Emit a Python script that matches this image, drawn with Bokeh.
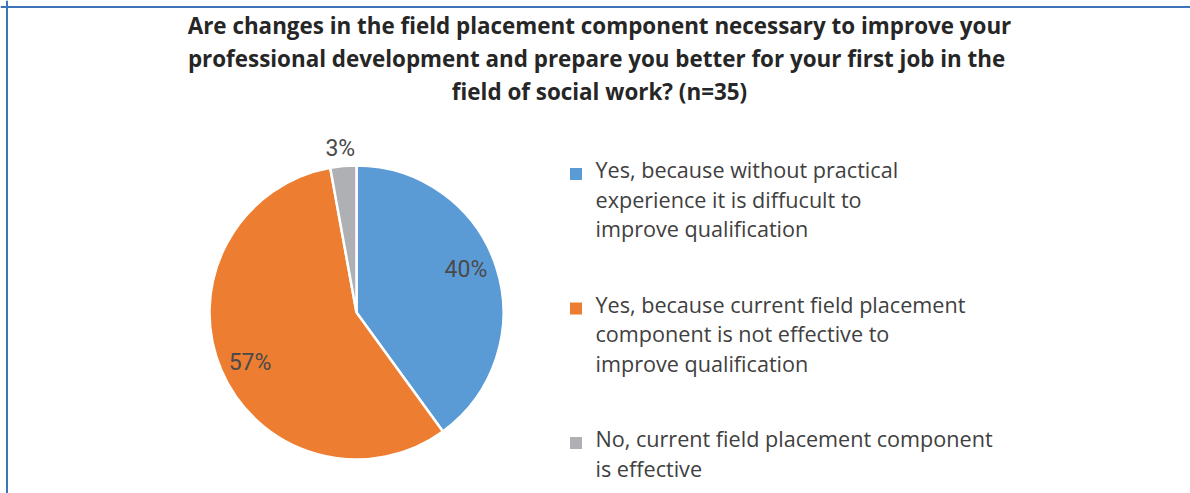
import numpy as np
from bokeh.plotting import figure
from bokeh.models import Range1d, Span, ColumnDataSource
from bokeh.core.properties import value
from bokeh.embed import file_html
from bokeh.resources import INLINE

# ---------------- data ----------------
title_lines = [
    "Are changes in the field placement component necessary to improve your",
    "professional development and  prepare you better for your first job in the",
    "field of social work? (n=35)",
]
categories = [
    "Yes, because without practical\nexperience it is diffucult to\nimprove qualification",
    "Yes, because current field placement\ncomponent is not effective to\nimprove qualification",
    "No, current field placement component\nis effective",
]
counts = [14, 20, 1]
colors = ["#5B9BD5", "#ED7D31", "#AFB0B4"]

# ---------------- derived ----------------
total = sum(counts)
frac = np.array(counts, dtype=float) / total
cum = np.concatenate([[0.0], np.cumsum(frac)])
start = np.pi / 2 - 2 * np.pi * cum[:-1]
end = np.pi / 2 - 2 * np.pi * cum[1:]
mid = (start + end) / 2
pct_labels = [f"{int(round(f * 100))}%" for f in frac]

W, H = 1190, 493
BASE_FIX = 10  # baseline correction for svg text rendering


def sy(y):
    return H - y


p = figure(width=W, height=H, x_range=Range1d(0, W), y_range=Range1d(0, H),
           toolbar_location=None, output_backend="svg", min_border=0,
           x_axis_type=None, y_axis_type=None)
p.grid.visible = False
p.outline_line_color = None
p.background_fill_color = "white"
p.border_fill_color = "white"

# frame lines (top and left)
p.add_layout(Span(location=sy(6.5), dimension="width", line_color="#3E74B8", line_width=2))
p.add_layout(Span(location=6.5, dimension="height", line_color="#3E74B8", line_width=2))

# pie
cx, cy, R = 356, sy(312), 147
src = ColumnDataSource(dict(start=start, end=end, color=colors))
p.wedge(x=cx, y=cy, radius=R, start_angle="start", end_angle="end", direction="clock",
        fill_color="color", line_color="white", line_width=2.5, source=src)

# data labels (placed along each slice's mid angle)
rf = np.array([0.8, 0.8, 1.12])
ang_shift = np.radians([3.5, 2.0, 0.5])
lx = cx + R * rf * np.cos(mid + ang_shift)
ly = cy + R * rf * np.sin(mid + ang_shift)
p.text(x=lx, y=ly, text=pct_labels, text_align="center", text_baseline="middle",
       text_font=value("Roboto"), text_font_size="23px", text_color="#4a4a4a")

# title
for i, line in enumerate(title_lines):
    p.text(x=[599], y=[sy(35 - BASE_FIX + 33 * i)], text=[line], text_align="center",
           text_baseline="alphabetic", text_font=value("Open Sans"), text_font_style="bold",
           text_font_size="22.4px", text_color="#262626")

# legend
for i, (cat, col) in enumerate(zip(categories, colors)):
    base = 179 + 134.5 * i
    p.scatter(x=[575.5], y=[sy(base - 5.5)], marker="square", size=12,
              fill_color=col, line_color=None)
    for j, line in enumerate(cat.split("\n")):
        p.text(x=[595], y=[sy(base - BASE_FIX + 29.5 * j)], text=[line], text_align="left",
               text_baseline="alphabetic", text_font=value("Open Sans"),
               text_font_size="21.6px", text_color="#404040")

open("out.html", "w").write(file_html(p, INLINE))
